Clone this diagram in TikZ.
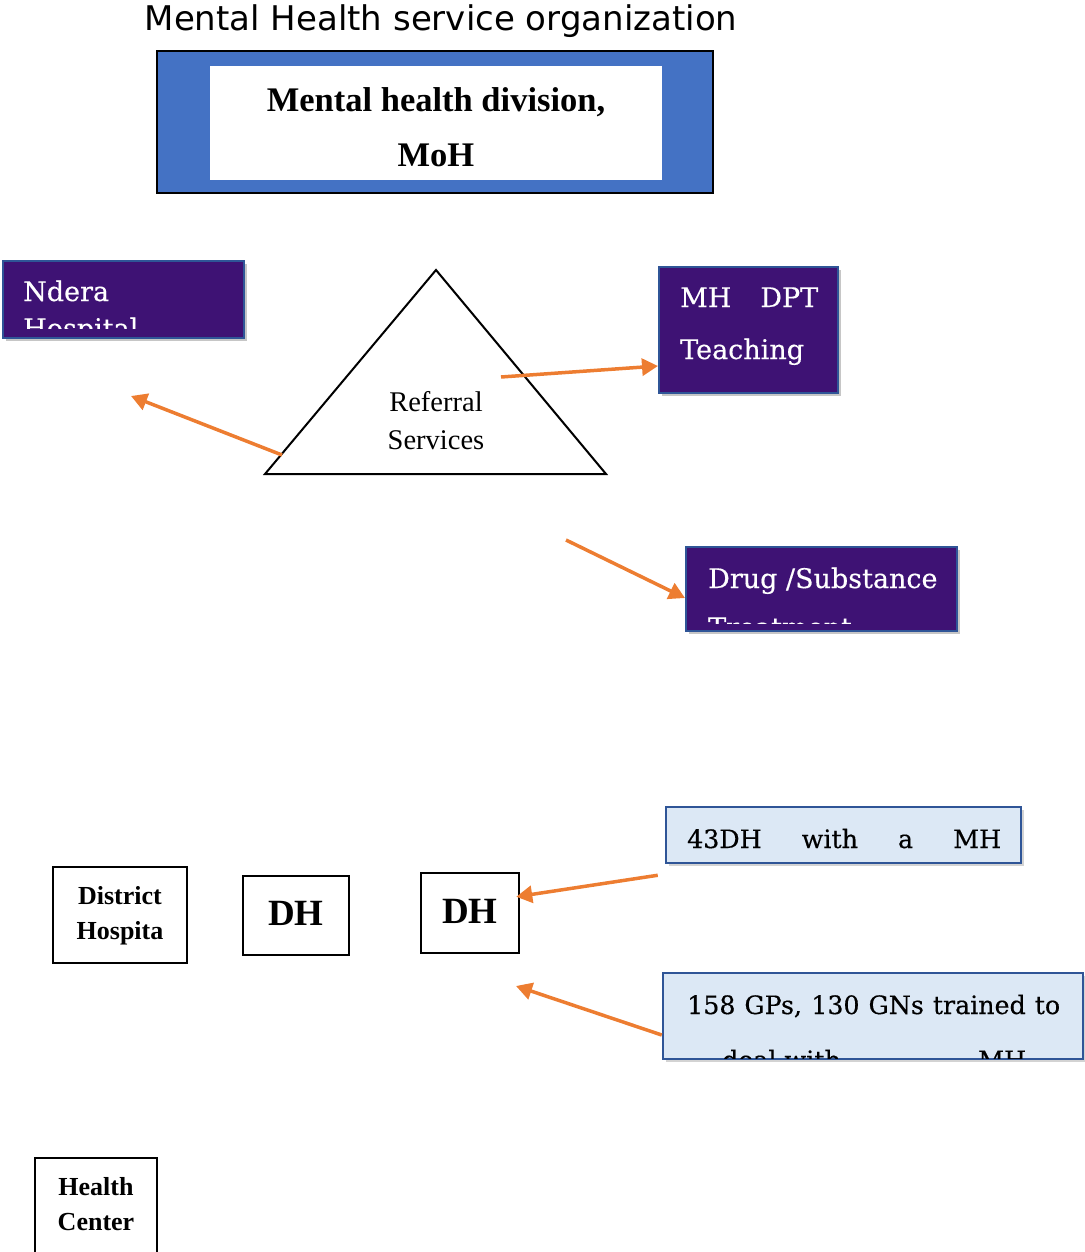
\documentclass[tikz,border=0pt]{standalone}
\usepackage{fontspec}
\setmainfont{Liberation Serif}
\newfontfamily\titlefont{DejaVu Sans}
\newfontfamily\slabfont[FakeBold=0.4]{DejaVu Serif}
\usetikzlibrary{arrows.meta,shadows}
\definecolor{divblue}{HTML}{4472C4}
\definecolor{deeppurple}{RGB}{62,18,116}
\definecolor{edgeblue}{HTML}{2F5597}
\definecolor{paleblue}{HTML}{DCE8F5}
\definecolor{arroworange}{HTML}{ED7D31}

\begin{document}
\begin{tikzpicture}[x=1pt, y=-1pt,
		purplebox/.style={draw=edgeblue, line width=2pt, fill=deeppurple, inner sep=0pt, drop shadow={shadow xshift=3pt, shadow yshift=-3pt, opacity=0.45}},
		palebox/.style={draw=edgeblue, line width=2.5pt, fill=paleblue, inner sep=0pt, drop shadow={shadow xshift=3pt, shadow yshift=-3pt, opacity=0.35}},
		plainbox/.style={draw, line width=2.5pt, inner sep=0pt},
		slabtext/.style={anchor=base west, inner sep=0pt, text=white, font=\slabfont\fontsize{27}{32}\selectfont},
		paletext/.style={slabtext, text=black, font=\slabfont\fontsize{25.3}{30}\selectfont},
		boxtext/.style={anchor=base, inner sep=0pt, font=\bfseries\fontsize{26}{30}\selectfont},
		dhtext/.style={boxtext, font=\bfseries\fontsize{37}{42}\selectfont},
		flow/.style={draw=arroworange, line width=3.5pt, -{Triangle[width=17pt,length=16pt]}}]
	\useasboundingbox (0,0) rectangle (1084,1252);
	% heading
	\node[anchor=base, inner sep=0pt, font=\titlefont\fontsize{34}{40}\selectfont] (title) at (441,31) {Mental Health service organization};
	\node[draw, line width=2pt, fill=divblue, minimum width=556pt, minimum height=142pt] (mhd) at (435,122) {};
	\node[fill=white, minimum width=452pt, minimum height=114pt] (mhdin) at (436,123) {};
	\node[boxtext, font=\bfseries\fontsize{34.5}{40}\selectfont] (mhd1) at (436,112) {Mental health division,};
	\node[boxtext, font=\bfseries\fontsize{34.5}{40}\selectfont] (mhd2) at (436,167) {MoH};

	% referral triangle
	\coordinate (apex) at (436,270);
	\coordinate (baseL) at (265,474);
	\coordinate (baseR) at (606,474);
	\draw[line width=2pt] (apex) -- (baseL) -- (baseR) -- cycle;
	\node[anchor=base, inner sep=0pt, font=\fontsize{28.5}{34}\selectfont] (ref1) at (436,411) {Referral};
	\node[anchor=base, inner sep=0pt, font=\fontsize{28.5}{34}\selectfont] (ref2) at (436,449) {Services};

	% referral hospitals
	\node[purplebox, minimum width=241pt, minimum height=77pt] (ndera) at (123.5,299.5) {};
	\node[purplebox, minimum width=179pt, minimum height=126pt] (mh) at (748.5,330) {};
	\node[purplebox, minimum width=271pt, minimum height=84pt] (drug) at (821.5,589) {};
	\begin{scope}
		\clip ([shift={(1pt,-1pt)}]ndera.north west) rectangle ([shift={(-1pt,11pt)}]ndera.south east);
		\node[slabtext] (ndera1) at (23,301) {Ndera};
		\node[slabtext] (ndera2) at (23,338) {Hospital};
	\end{scope}
	\node[slabtext] (mh1) at (680,307) {\makebox[138pt][s]{MH DPT}};
	\node[slabtext] (mh2) at (680,359) {Teaching};
	\begin{scope}
		\clip ([shift={(1pt,-1pt)}]drug.north west) rectangle ([shift={(-1pt,9pt)}]drug.south east);
		\node[slabtext] (drug1) at (708,588) {Drug /Substance};
		\node[slabtext] (drug2) at (708,637) {Treatment};
	\end{scope}

	% district level
	\node[palebox, minimum width=355pt, minimum height=56pt] (dh43) at (843.5,835) {};
	\node[palebox, minimum width=420pt, minimum height=86pt] (gp) at (873,1016) {};
	\node[paletext] (dh43a) at (687,848) {\makebox[314pt][s]{43DH with a MH}};
	\begin{scope}
		\clip ([shift={(1pt,-1pt)}]gp.north west) rectangle ([shift={(-1pt,2pt)}]gp.south east);
		\node[paletext] (gp1) at (687,1014) {\makebox[373pt][s]{158 GPs, 130 GNs trained to}};
		\node[paletext] (gp2) at (722,1069) {deal with};
		\node[paletext] (gp3) at (978,1069) {MH};
	\end{scope}
	\node[plainbox, minimum width=134pt, minimum height=96pt] (dist) at (120,915) {};
	\node[boxtext] (dist1) at (120,904) {District};
	\node[boxtext] (dist2) at (120,939) {Hospita};
	\node[plainbox, minimum width=106pt, minimum height=79pt] (dh2) at (296,915.5) {};
	\node[dhtext] (dh2t) at (296,925) {DH};
	\node[plainbox, minimum width=98pt, minimum height=80pt] (dh3) at (470,913) {};
	\node[dhtext] (dh3t) at (470,923) {DH};
	\node[plainbox, minimum width=122pt, minimum height=104pt] (hc) at (96,1210) {};
	\node[boxtext] (hc1) at (96,1195) {Health};
	\node[boxtext] (hc2) at (96,1230) {Center};

	% arrows
	\coordinate (lfoot) at (282,455);
	\coordinate (nderatip) at (131,396);
	\coordinate (trimid) at (501,377);
	\coordinate (drugtail) at (566,540);
	\coordinate (gptip) at (516,986);
	\draw[flow] (lfoot) -- (nderatip);
	\draw[flow] (trimid) -- ([yshift=-36pt]mh.west);
	\draw[flow] (drugtail) -- ([yshift=-9pt]drug.west);
	\draw[flow] ([shift={(-7pt,-11pt)}]dh43.south west) -- ([shift={(-4pt,-25pt)}]dh3.north east);
	\draw[flow] ([yshift=-19pt]gp.west) -- (gptip);
\end{tikzpicture}
\end{document}
